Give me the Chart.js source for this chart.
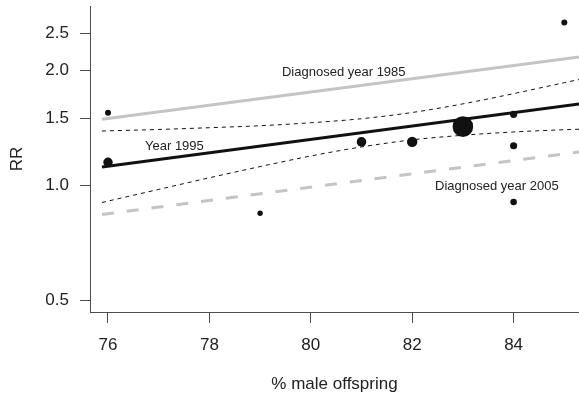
<!DOCTYPE html>
<html>
<head>
<meta charset="utf-8">
<script src="https://cdn.jsdelivr.net/npm/chart.js@4"></script>
<style>
  html, body { margin: 0; padding: 0; background: #fff; }
</style>
</head>
<body>
<canvas id="chartRR" width="579" height="395"></canvas>
<script>
// observed points (size of marker = weight of the study)
var maleOffspring = [76, 76, 79, 81, 82, 83, 84, 84, 84, 85];
var relRisk = [1.55, 1.15, 0.845, 1.30, 1.30, 1.425, 1.535, 1.27, 0.905, 2.67];
var studyWeight = [3, 4.7, 2.7, 4.8, 5.2, 10.3, 3.6, 3.6, 3.3, 3];

// fitted lines (straight on the log scale)
var fitX = [75.88, 85.3];
var year1985 = [1.49, 2.17];
var year1995 = [1.118, 1.635];
var year2005 = [0.839, 1.224];

// confidence band round the 1995 line
var bandX = [75.88, 77, 78, 79, 80, 81, 82, 83, 84, 85, 85.3];
var bandUpper = [1.388, 1.401, 1.416, 1.433, 1.459, 1.495, 1.552, 1.635, 1.739, 1.858, 1.894];
var bandLower = [0.902, 0.976, 1.047, 1.120, 1.194, 1.261, 1.316, 1.353, 1.380, 1.399, 1.403];

var xTicks = [76, 78, 80, 82, 84];
var yTicks = [0.5, 1.0, 1.5, 2.0, 2.5];

var noteText = ["Diagnosed year 1985", "Year 1995", "Diagnosed year 2005"];
var noteX = [80.65, 77.31, 83.67];
var noteY = [1.973, 1.267, 0.995];

function pairs(xs, ys) {
    var out = [];
    for (var i = 0; i < xs.length; i++) out.push({x: xs[i], y: ys[i]});
    return out;
}

var fontFam = '"Liberation Sans", Arial, Helvetica, sans-serif';
var axisGrey = '#4d4d4d';
var lightGrey = '#c4c4c4';

var notes = {
    id: 'notes',
    afterDatasetsDraw: function(chart) {
        var ctx = chart.ctx;
        var xs = chart.scales.x, ys = chart.scales.y;
        ctx.save();
        ctx.font = '13px ' + fontFam;
        ctx.fillStyle = '#222';
        ctx.textAlign = 'center';
        ctx.textBaseline = 'middle';
        for (var i = 0; i < noteText.length; i++) {
            ctx.fillText(noteText[i], xs.getPixelForValue(noteX[i]), ys.getPixelForValue(noteY[i]));
        }
        ctx.restore();
    }
};

var ctx = document.getElementById('chartRR').getContext('2d');
var chart = new Chart(ctx, {
    type: 'scatter',
    data: {
        datasets: [{
            data: pairs(maleOffspring, relRisk),
            pointRadius: studyWeight,
            pointHoverRadius: studyWeight,
            pointBackgroundColor: '#111',
            pointBorderWidth: 0,
            showLine: false
        }, {
            data: pairs(fitX, year1995),
            showLine: true,
            borderColor: '#111',
            borderWidth: 3,
            pointRadius: 0
        }, {
            data: pairs(bandX, bandUpper),
            showLine: true,
            borderColor: '#111',
            borderWidth: 1,
            borderDash: [4, 4],
            cubicInterpolationMode: 'monotone',
            pointRadius: 0
        }, {
            data: pairs(bandX, bandLower),
            showLine: true,
            borderColor: '#111',
            borderWidth: 1,
            borderDash: [4, 4],
            cubicInterpolationMode: 'monotone',
            pointRadius: 0
        }, {
            data: pairs(fitX, year1985),
            showLine: true,
            borderColor: lightGrey,
            borderWidth: 3,
            pointRadius: 0
        }, {
            data: pairs(fitX, year2005),
            showLine: true,
            borderColor: lightGrey,
            borderWidth: 3,
            borderDash: [12, 13],
            pointRadius: 0
        }]
    },
    options: {
        responsive: false,
        animation: false,
        layout: { autoPadding: false, padding: { top: 6, right: 0, left: 0, bottom: 0 } },
        plugins: {
            legend: { display: false },
            tooltip: { enabled: false }
        },
        scales: {
            x: {
                type: 'linear',
                min: 75.645,
                max: 85.29,
                afterBuildTicks: function(s) { s.ticks = xTicks.map(function(v) { return {value: v}; }); },
                afterFit: function(s) { s.height = 83; s.paddingLeft = 0; s.paddingRight = 0; },
                ticks: { font: { family: fontFam, size: 17 }, color: '#222', padding: 12, maxRotation: 0 },
                grid: { drawOnChartArea: false, tickLength: 11, color: axisGrey },
                border: { color: axisGrey },
                title: { display: true, text: '% male offspring', font: { family: fontFam, size: 17 }, color: '#222', padding: 0 }
            },
            y: {
                type: 'logarithmic',
                min: 0.466,
                max: 2.95,
                afterBuildTicks: function(s) { s.ticks = yTicks.map(function(v) { return {value: v}; }); },
                afterFit: function(s) { s.width = 90; s.paddingTop = 0; s.paddingBottom = 0; },
                ticks: {
                    font: { family: fontFam, size: 17 }, color: '#222', padding: 11,
                    callback: function(v) { return Number(v).toFixed(1); }
                },
                grid: { drawOnChartArea: false, tickLength: 10, color: axisGrey },
                border: { color: axisGrey },
                title: { display: true, text: 'RR', font: { family: fontFam, size: 17 }, color: '#222', padding: 7 }
            }
        }
    },
    plugins: [notes]
});
</script>
</body>
</html>
